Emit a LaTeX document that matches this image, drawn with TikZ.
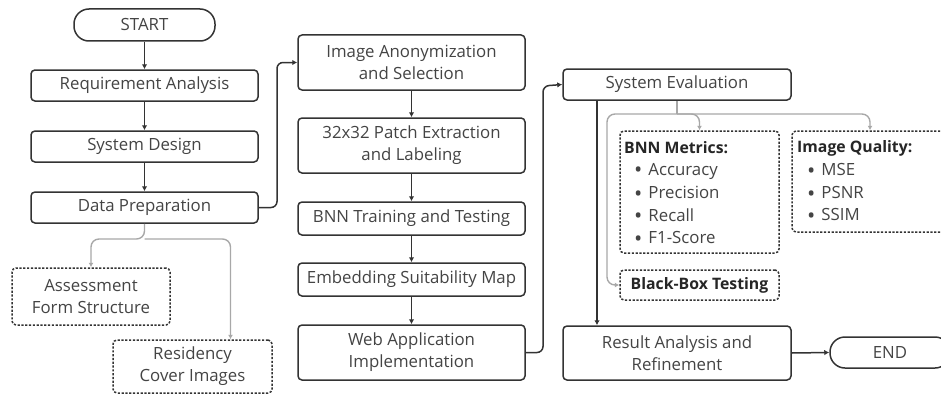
\documentclass[tikz,border=0pt]{standalone}
\usepackage{fontspec}
\setmainfont{Open Sans}
\usetikzlibrary{arrows.meta}
\definecolor{lc}{HTML}{333333}
\definecolor{tc}{HTML}{444444}
\definecolor{gc}{HTML}{A8A8A8}
\newcommand{\blt}{\raisebox{-2.5pt}{\fontsize{22}{22}\selectfont •}\hspace{6pt}}
\begin{document}
\begin{tikzpicture}[x=1pt,y=-1pt,
  fs/.style={font=\fontsize{16.8}{22}\selectfont},
  box/.style={draw=lc, line width=1.5pt, rounded corners=4pt, fill=white, text=tc, align=center, fs, inner sep=0pt},
  dbox/.style={box, dash pattern=on 2.2pt off 1.6pt},
  term/.style={box, rounded corners=15pt},
  txt/.style={text=tc, fs, anchor=west, inner sep=0pt},
  bfs/.style={font=\fontsize{15.8}{22}\selectfont\bfseries, text=black!85},
  btxt/.style={txt, bfs},
  arr/.style={draw=lc, line width=1.5pt, -{Latex[length=5pt,width=5.5pt]}, rounded corners=6pt},
  garr/.style={draw=gc, line width=1.4pt, -{Latex[length=4.5pt,width=5pt]}, rounded corners=8pt}]
\useasboundingbox (0,0) rectangle (941,396);

\node[term, minimum width=141pt, minimum height=32pt] (start) at (144.5,25) {START};
\node[box, minimum width=227pt, minimum height=31pt] (req) at (144.5,85.5) {Requirement Analysis};
\node[box, minimum width=227pt, minimum height=31pt] (sd) at (144.5,146.5) {System Design};
\node[box, minimum width=227pt, minimum height=31pt] (dp) at (144.5,207.5) {Data Preparation};
\node[dbox, minimum width=158pt, minimum height=57pt] (afs) at (91,296.5) {Assessment\\Form Structure};
\node[dbox, minimum width=159pt, minimum height=53pt] (rci) at (192.5,366.5) {Residency\\Cover Images};

\node[box, minimum width=227pt, minimum height=55pt] (ias) at (411.5,62.5) {Image Anonymization\\and Selection};
\node[box, minimum width=227pt, minimum height=55pt] (pel) at (411.5,145.5) {32x32 Patch Extraction\\and Labeling};
\node[box, minimum width=227pt, minimum height=33pt] (bnn) at (411.5,218.5) {BNN Training and Testing};
\node[box, minimum width=227pt, minimum height=33pt] (esm) at (411.5,279.5) {Embedding Suitability Map};
\node[box, minimum width=227pt, minimum height=55pt] (web) at (411.5,352.5) {Web Application\\Implementation};

\node[box, minimum width=228pt, minimum height=31pt] (se) at (677,84.5) {System Evaluation};
\node[dbox, minimum width=159pt, minimum height=122pt] (bm) at (699.5,192) {};
\node[dbox, minimum width=156pt, minimum height=101pt] (iq) at (870,181.5) {};
\node[dbox, minimum width=159pt, minimum height=30pt, bfs] (bb) at (699.5,285) {Black-Box Testing};
\node[box, minimum width=228pt, minimum height=54pt] (ra) at (677,353) {Result Analysis and\\Refinement};
\node[term, minimum width=120pt, minimum height=31pt] (end) at (890,352.5) {END};

\node[btxt] (bmt) at (624,148) {BNN Metrics:};
\node[txt] (bm1) at (634,171) {\blt Accuracy};
\node[txt] (bm2) at (634,194) {\blt Precision};
\node[txt] (bm3) at (634,216) {\blt Recall};
\node[txt] (bm4) at (634,239) {\blt F1-Score};
\node[btxt] (iqt) at (797,148) {Image Quality:};
\node[txt] (iq1) at (807,171) {\blt MSE};
\node[txt] (iq2) at (807,194) {\blt PSNR};
\node[txt] (iq3) at (807,216) {\blt SSIM};

\draw[arr] (start) -- (req);
\draw[arr] (req) -- (sd);
\draw[arr] (sd) -- (dp);
\draw[arr] (dp.east) -- (277,207.5) -- (277,62.5) -- (ias.west);
\draw[arr] (ias) -- (pel);
\draw[arr] (pel) -- (bnn);
\draw[arr] (bnn) -- (esm);
\draw[arr] (esm) -- (web);
\draw[arr] (web.east) -- (543,352.5) -- (543,86) -- (se.west);
\draw[arr, rounded corners=0pt] ([xshift=-80pt]se.south) -- ([xshift=-80pt]ra.north);
\draw[arr] (ra.east) -- (end.west);

\coordinate (dj) at (144.5,239);
\draw[garr] (dp.south) -- (dj) -- (afs.north |- dj) -- (afs.north);
\draw[garr] (dj) -- ([xshift=38pt]rci.north |- dj) -- ([xshift=38pt]rci.north);

\coordinate (sj) at (677,114);
\draw[draw=gc, line width=1.4pt] (se.south) -- (sj);
\draw[garr] (sj) -- (607,114) -- (607,285) -- (bb.west);
\draw[garr] (sj) -- (bm.north |- sj) -- (bm.north);
\draw[garr] (sj) -- (iq.north |- sj) -- (iq.north);
\end{tikzpicture}
\end{document}
